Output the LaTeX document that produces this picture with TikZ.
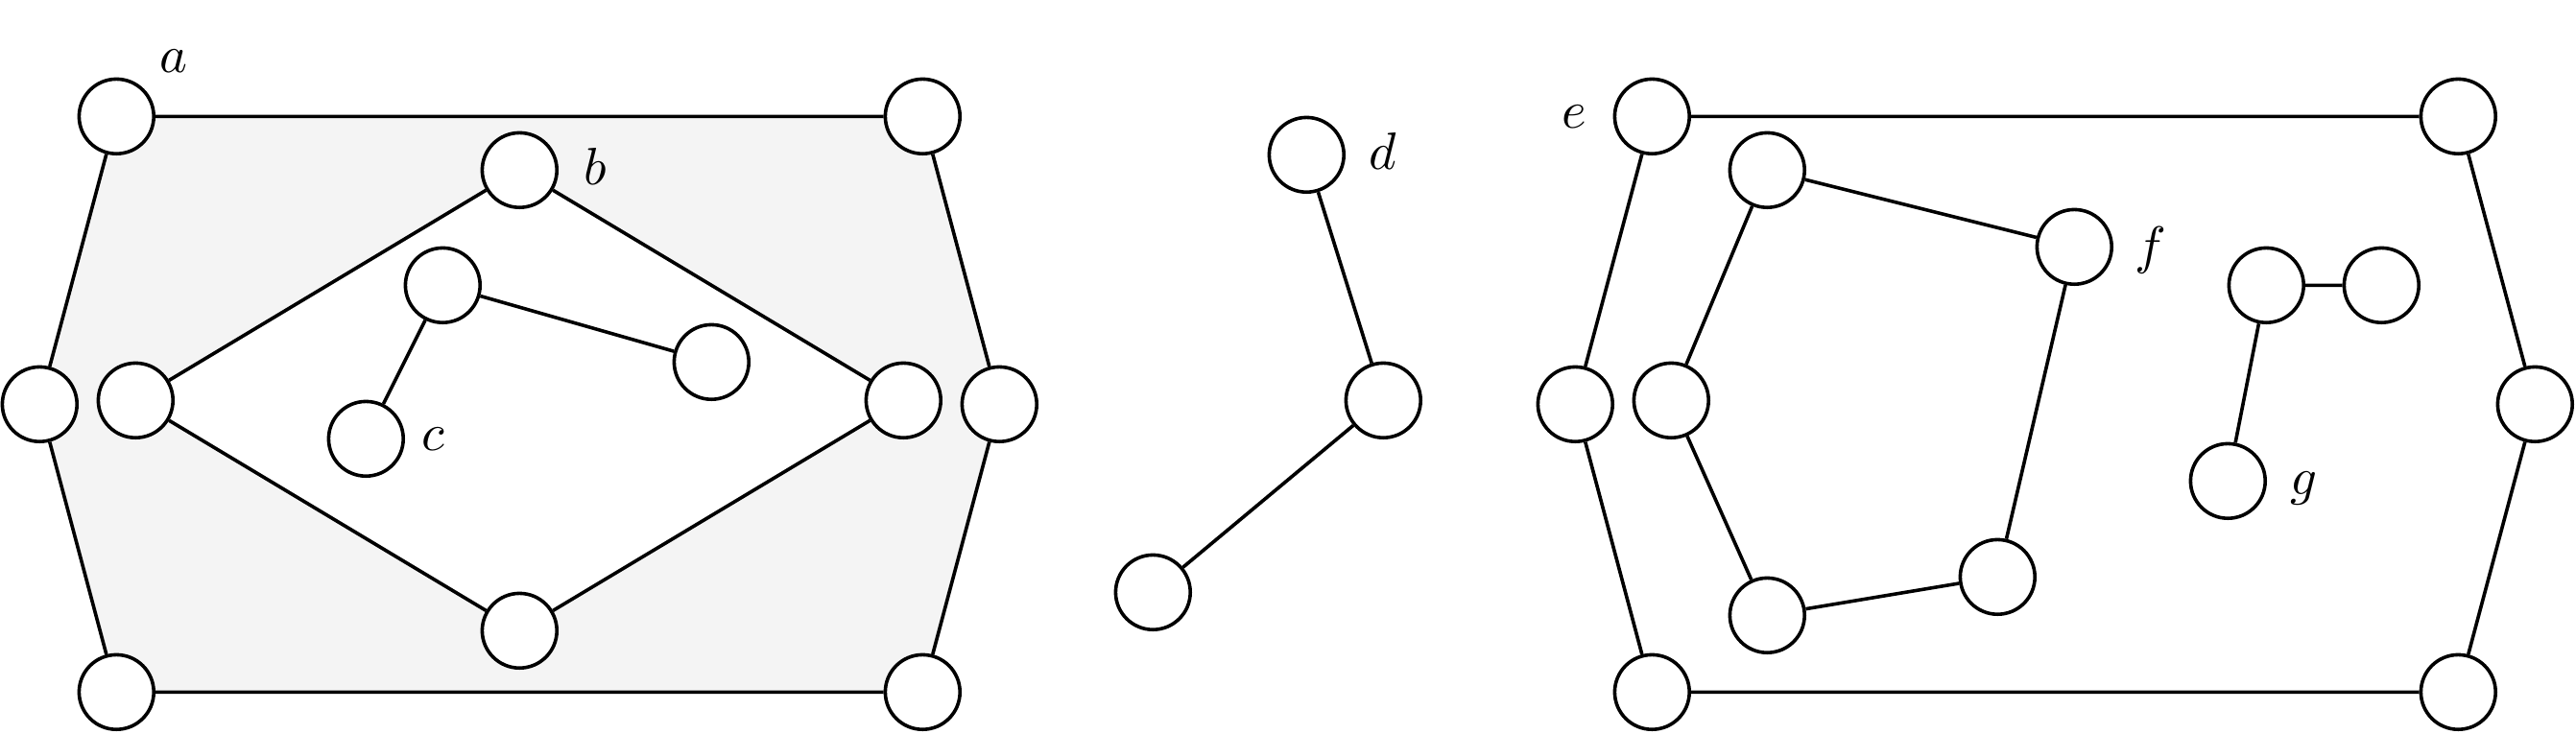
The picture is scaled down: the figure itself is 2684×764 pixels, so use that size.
\documentclass[tikz,border=0pt]{standalone}
\usetikzlibrary{backgrounds}
\definecolor{lightfill}{RGB}{244,244,244}
\tikzset{
  vtx/.style={circle, draw=black, fill=white, line width=0.72pt, minimum size=15.56pt, inner sep=0pt},
  lnk/.style={line width=0.72pt, draw=black},
  lbl/.style={inner sep=0pt, font=\fontsize{10.8}{13}\selectfont}
}
\begin{document}
\begin{tikzpicture}[x=0.2pt,y=-0.2pt]
\useasboundingbox (0,0) rectangle (2684,764);
% left graph
\node[vtx] (TL) at (121.3,121.3) {};
\node[vtx] (TR) at (961.3,121.3) {};
\node[vtx] (OL) at (41.3,421.3) {};
\node[vtx] (OR) at (1041.3,421.3) {};
\node[vtx] (BL) at (121.3,721.3) {};
\node[vtx] (BR) at (961.3,721.3) {};
\node[vtx] (IL) at (141.3,417.3) {};
\node[vtx] (IR) at (941.3,417.3) {};
\node[vtx] (B) at (541.3,177.3) {};
\node[vtx] (BOT) at (541.3,657.3) {};
\node[vtx] (T) at (461.3,297.3) {};
\node[vtx] (C) at (381.3,457.3) {};
\node[vtx] (RT) at (741.3,377.3) {};
% middle graph
\node[vtx] (D) at (1361.3,161.3) {};
\node[vtx] (DM) at (1441.3,417.3) {};
\node[vtx] (DB) at (1201.3,617.3) {};
% right graph
\node[vtx] (E) at (1721.3,121.3) {};
\node[vtx] (TR2) at (2561.3,121.3) {};
\node[vtx] (OL2) at (1641.3,421.3) {};
\node[vtx] (OR2) at (2641.3,421.3) {};
\node[vtx] (BL2) at (1721.3,721.3) {};
\node[vtx] (BR2) at (2561.3,721.3) {};
\node[vtx] (N1) at (1841.3,177.3) {};
\node[vtx] (F) at (2161.3,257.3) {};
\node[vtx] (N3) at (1741.3,417.3) {};
\node[vtx] (N4) at (1841.3,641.3) {};
\node[vtx] (N5) at (2081.3,601.3) {};
\node[vtx] (GT) at (2361.3,297.3) {};
\node[vtx] (GR) at (2481.3,297.3) {};
\node[vtx] (G) at (2321.3,501.3) {};
% shaded band between the outer hexagon and the inner diamond
\begin{pgfonlayer}{background}
\fill[lightfill, even odd rule] (TL.center) -- (TR.center) -- (OR.center) -- (BR.center) -- (BL.center) -- (OL.center) -- cycle
  (IL.center) -- (B.center) -- (IR.center) -- (BOT.center) -- cycle;
\end{pgfonlayer}
% edges
\draw[lnk] (TL) -- (TR) (TR) -- (OR) (OR) -- (BR) (BR) -- (BL) (BL) -- (OL) (OL) -- (TL);
\draw[lnk] (IL) -- (B) (B) -- (IR) (IR) -- (BOT) (BOT) -- (IL);
\draw[lnk] (T) -- (C) (T) -- (RT);
\draw[lnk] (D) -- (DM) (DM) -- (DB);
\draw[lnk] (E) -- (TR2) (TR2) -- (OR2) (OR2) -- (BR2) (BR2) -- (BL2) (BL2) -- (OL2) (OL2) -- (E);
\draw[lnk] (N1) -- (F) (F) -- (N5) (N5) -- (N4) (N4) -- (N3) (N3) -- (N1);
\draw[lnk] (GT) -- (GR) (GT) -- (G);
% labels
\node[lbl] (la) at (180.5,63.5) {$a$};
\node[lbl] (lb) at (620.1,173) {$b$};
\node[lbl] (lc) at (451,458) {$c$};
\node[lbl] (ld) at (1441,157) {$d$};
\node[lbl] (le) at (1640.4,121.8) {$e$};
\node[lbl] (lf) at (2240.5,260.7) {$f$};
\node[lbl] (lg) at (2400.7,509.3) {$g$};
\end{tikzpicture}
\end{document}
